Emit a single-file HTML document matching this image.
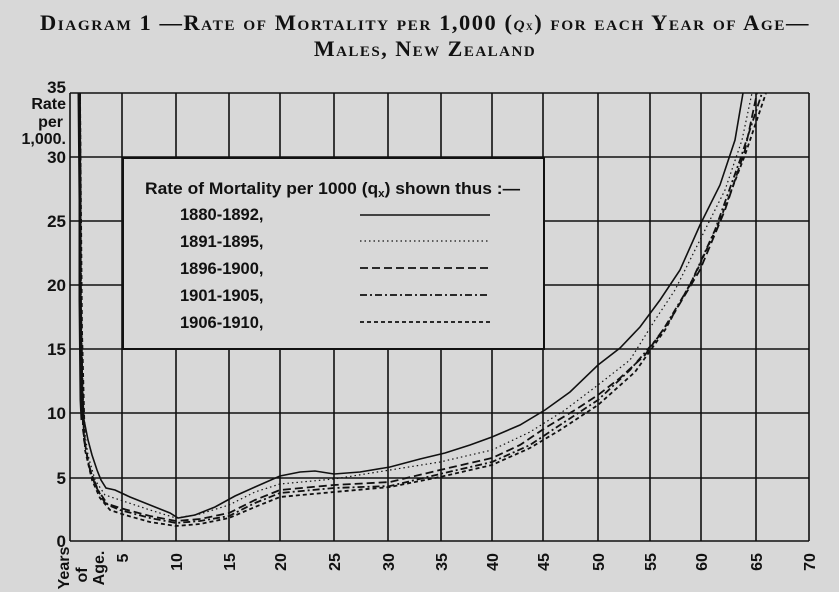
<!DOCTYPE html>
<html><head><style>
html,body{margin:0;padding:0;background:#d8d8d8;}
svg{display:block}
.t{font-family:"Liberation Serif",serif;font-variant:small-caps;font-weight:bold;font-size:22px;letter-spacing:1.5px;fill:#111}
.y{font-family:"Liberation Sans",sans-serif;font-weight:bold;font-size:16px;fill:#111}
.l{font-family:"Liberation Sans",sans-serif;font-weight:bold;font-size:16.5px;fill:#111}
</style></head><body>
<svg width="839" height="592" viewBox="0 0 839 592" xmlns="http://www.w3.org/2000/svg">
<rect width="839" height="592" fill="#d8d8d8"/>
<text class="t" x="425" y="30" text-anchor="middle" textLength="770" lengthAdjust="spacingAndGlyphs">Diagram 1 —Rate of Mortality per 1,000 (<tspan font-style="italic">q</tspan><tspan font-size="13">x</tspan>) for each Year of Age—</text>
<text class="t" x="425" y="56" text-anchor="middle">Males, New Zealand</text>
<g stroke="#111" stroke-width="1.6" fill="none">
<path d="M70 93V541 M122 93V541 M176 93V541 M229 93V541 M280 93V541 M334 93V541 M388 93V541 M441 93V541 M492 93V541 M543 93V541 M598 93V541 M650 93V541 M701 93V541 M756 93V541 M809 93V541"/>
<path d="M70 93H809 M70 157H809 M70 221H809 M70 285H809 M70 349H809 M70 413H809 M70 478H809 M70 541H809"/>
</g>
<rect x="123" y="158" width="421" height="191" fill="#d8d8d8" stroke="#111" stroke-width="2"/>
<text class="l" x="145" y="194" textLength="375" lengthAdjust="spacingAndGlyphs">Rate of Mortality per 1000 (q<tspan font-size="11" dy="3">x</tspan><tspan dy="-3">) shown thus :—</tspan></text>
<text class="l" x="180" y="220">1880-1892,</text>
<text class="l" x="180" y="247">1891-1895,</text>
<text class="l" x="180" y="274">1896-1900,</text>
<text class="l" x="180" y="301">1901-1905,</text>
<text class="l" x="180" y="328">1906-1910,</text>
<g fill="none" stroke="#111">
<path d="M360 215H490" stroke-width="1.6"/>
<path d="M360 241H490" stroke-width="1.2" stroke-dasharray="1.5 3"/>
<path d="M360 268H490" stroke-width="1.8" stroke-dasharray="8 4"/>
<path d="M360 295H490" stroke-width="1.8" stroke-dasharray="7 3 2 3"/>
<path d="M360 322H490" stroke-width="1.8" stroke-dasharray="4 3"/>
</g>
<g fill="none" stroke="#111">
<path stroke-width="3" d="M79 93 L80 200 L80 300 L81 400 L82 420"/>
<path stroke-width="1.6" d="M79 93 L80 250 L82 380 L84 420 L88 440 L92 455 L97 470 L101 480 L106 488 L115 490 L130 497 L150 505 L170 513 L178 518 L195 515 L215 507 L235 496 L255 487 L280 476 L300 472 L315 471 L334 474 L360 472 L390 467 L420 459 L445 453 L470 445 L492 437 L520 425 L545 410 L570 392 L598 365 L620 348 L640 327 L660 300 L680 270 L700 225 L720 185 L735 140 L743 93"/>
<path stroke-width="1.2" stroke-dasharray="1.5 3" d="M80 93 L81 300 L83 420 L88 455 L95 480 L105 495 L120 500 L150 510 L176 518 L200 514 L229 505 L255 492 L280 484 L334 479 L390 470 L440 462 L492 450 L530 432 L565 410 L598 385 L630 360 L655 320 L675 290 L700 240 L725 190 L742 140 L752 93"/>
<path stroke-width="1.8" stroke-dasharray="8 4" d="M80 93 L81 300 L83 430 L88 462 L95 485 L105 503 L120 508 L150 516 L176 521 L200 519 L229 513 L255 500 L280 490 L334 485 L390 482 L440 470 L492 458 L520 445 L545 428 L575 410 L598 395 L620 378 L645 355 L670 320 L700 270 L725 210 L745 150 L757 93"/>
<path stroke-width="1.8" stroke-dasharray="7 3 2 3" d="M80 93 L81 320 L84 440 L90 470 L98 490 L108 505 L120 510 L150 518 L176 523 L200 521 L229 516 L255 503 L280 493 L334 488 L390 486 L440 474 L492 462 L530 445 L560 425 L598 400 L630 370 L660 335 L690 285 L715 230 L740 160 L762 93"/>
<path stroke-width="1.8" stroke-dasharray="4 3" d="M80 93 L82 330 L85 450 L92 480 L100 498 L110 510 L125 515 L150 522 L176 526 L200 524 L229 518 L255 507 L280 497 L334 492 L390 487 L440 477 L492 465 L530 448 L560 430 L598 405 L635 372 L665 330 L695 275 L720 220 L745 155 L766 93"/>
</g>
<g class="y" text-anchor="end">
<text x="66" y="93" font-size="17">35</text>
<text x="66" y="109">Rate</text>
<text x="63" y="127">per</text>
<text x="66" y="144">1,000.</text>
<text x="66" y="163" font-size="17">30</text>
<text x="66" y="227" font-size="17">25</text>
<text x="66" y="291" font-size="17">20</text>
<text x="66" y="355" font-size="17">15</text>
<text x="66" y="419" font-size="17">10</text>
<text x="66" y="484" font-size="17">5</text>
<text x="66" y="547" font-size="17">0</text>
</g>
<g class="y" text-anchor="middle" font-size="17">
<text transform="translate(63,568) rotate(-90)" dy="6">Years</text>
<text transform="translate(81,575) rotate(-90)" dy="6">of</text>
<text transform="translate(98,568) rotate(-90)" dy="6">Age.</text>
<text transform="translate(122,558) rotate(-90)" dy="6">5</text>
<text transform="translate(176,562) rotate(-90)" dy="6">10</text>
<text transform="translate(229,562) rotate(-90)" dy="6">15</text>
<text transform="translate(280,562) rotate(-90)" dy="6">20</text>
<text transform="translate(334,562) rotate(-90)" dy="6">25</text>
<text transform="translate(388,562) rotate(-90)" dy="6">30</text>
<text transform="translate(441,562) rotate(-90)" dy="6">35</text>
<text transform="translate(492,562) rotate(-90)" dy="6">40</text>
<text transform="translate(543,562) rotate(-90)" dy="6">45</text>
<text transform="translate(598,562) rotate(-90)" dy="6">50</text>
<text transform="translate(650,562) rotate(-90)" dy="6">55</text>
<text transform="translate(701,562) rotate(-90)" dy="6">60</text>
<text transform="translate(756,562) rotate(-90)" dy="6">65</text>
<text transform="translate(809,562) rotate(-90)" dy="6">70</text>
</g>
</svg>
</body></html>
